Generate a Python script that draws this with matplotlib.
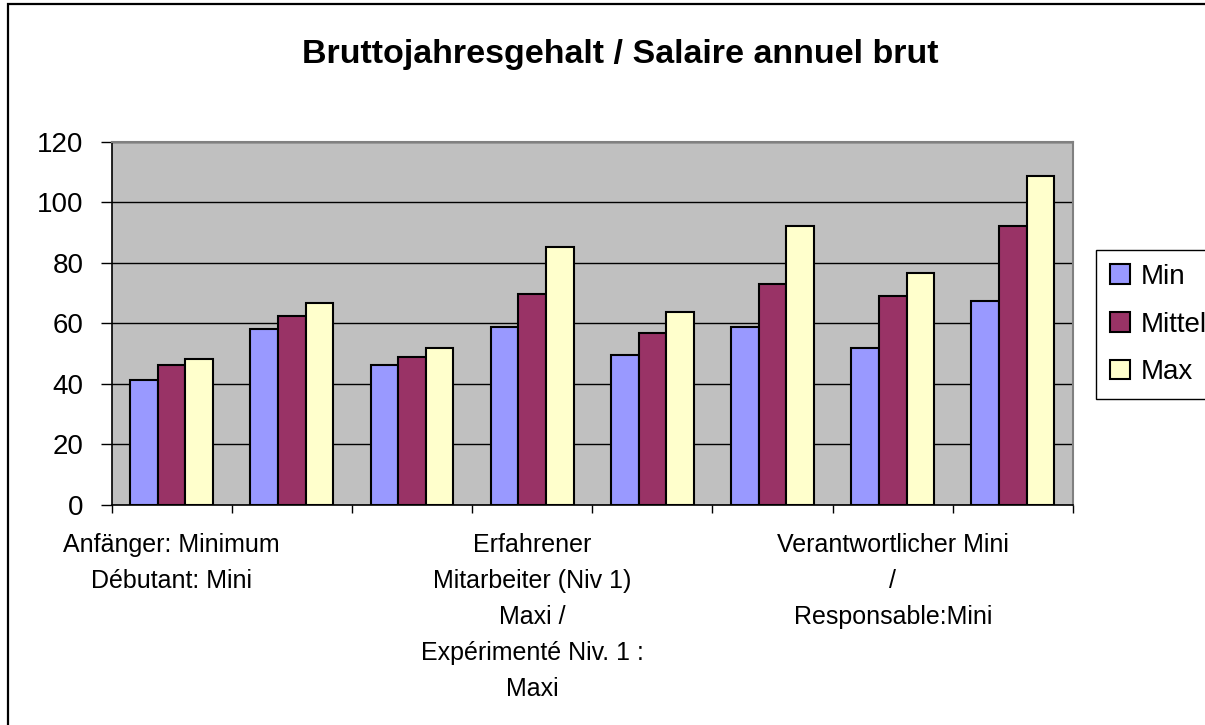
import matplotlib
matplotlib.use("Agg")
import matplotlib.pyplot as plt
import matplotlib.patches as mpatches
import numpy as np

plt.rcParams['font.family'] = ['Liberation Sans', 'DejaVu Sans']

title = "Bruttojahresgehalt / Salaire annuel brut"
categories = [
    "Anfänger: Minimum\nDébutant: Mini",
    "",
    "",
    "Erfahrener\nMitarbeiter (Niv 1)\nMaxi /\nExpérimenté Niv. 1 :\nMaxi",
    "",
    "",
    "Verantwortlicher Mini\n/\nResponsable:Mini",
    "",
]
series_names = ["Min", "Mittel", "Max"]
min_vals = [41.3, 58.1, 46.1, 58.8, 49.6, 58.9, 51.7, 67.4]
mittel_vals = [46.2, 62.4, 48.9, 69.6, 56.8, 73.1, 69.0, 92.2]
max_vals = [48.2, 66.7, 51.8, 85.2, 63.8, 92.2, 76.6, 108.7]
colors = ["#9999FF", "#993366", "#FFFFCC"]
yticks = [0, 20, 40, 60, 80, 100, 120]

W, H = 1205, 725
fig = plt.figure(figsize=(W / 100, H / 100), dpi=100)
ax = fig.add_axes([111.5 / W, 1 - 505 / H, (1073 - 111.5) / W, (505 - 141.7) / H])
ax.set_facecolor("#C0C0C0")

x = np.arange(len(categories))
bw = 0.23
handles = []
for i, (vals, name, c) in enumerate(zip([min_vals, mittel_vals, max_vals], series_names, colors)):
    b = ax.bar(x + (i - 1) * bw, vals, width=bw, color=c, edgecolor="black",
               linewidth=1.5, label=name, zorder=3)
    handles.append(b)

ax.set_xlim(-0.5, len(categories) - 0.5)
ax.set_ylim(0, 120)
ax.set_yticks(yticks)
ax.set_yticklabels([str(v) for v in yticks], fontsize=20)
ax.yaxis.grid(True, color="black", linewidth=1, zorder=1)
ax.set_axisbelow(True)

ax.set_xticks(np.arange(-0.5, len(categories)), minor=False)
ax.set_xticklabels([])
ax.set_xticks(x, minor=True)
ax.set_xticklabels(categories, minor=True, fontsize=18, linespacing=1.63, va="top")
ax.tick_params(axis="x", which="major", direction="out", length=6, width=1, color="black")
ax.tick_params(axis="x", which="minor", length=0, pad=20)
ax.tick_params(axis="y", direction="out", length=8, width=1, pad=12, color="black")

for s in ["top", "right"]:
    ax.spines[s].set_color("#808080")
    ax.spines[s].set_linewidth(1.5)
for s in ["left", "bottom"]:
    ax.spines[s].set_color("black")
    ax.spines[s].set_linewidth(1.2)

fig.text(620 / W, 1 - 55 / H, title, ha="center", va="center", fontsize=24.5, fontweight="bold")

leg = fig.legend(handles=handles, labels=series_names, loc="upper left",
                 bbox_to_anchor=(1096 / W, 1 - 250 / H), fontsize=20,
                 frameon=True, fancybox=False, edgecolor="black", framealpha=1,
                 borderaxespad=0, handlelength=0.72, handleheight=0.72,
                 handletextpad=0.4, labelspacing=0.78, borderpad=0.5)
leg.get_frame().set_linewidth(1)

border = mpatches.Rectangle((8 / W, -0.1), 1.2, 1 - 4.5 / H + 0.1,
                            transform=fig.transFigure, fill=False,
                            edgecolor="black", linewidth=1.6)
fig.patches.append(border)

fig.savefig("out.png", dpi=100)
